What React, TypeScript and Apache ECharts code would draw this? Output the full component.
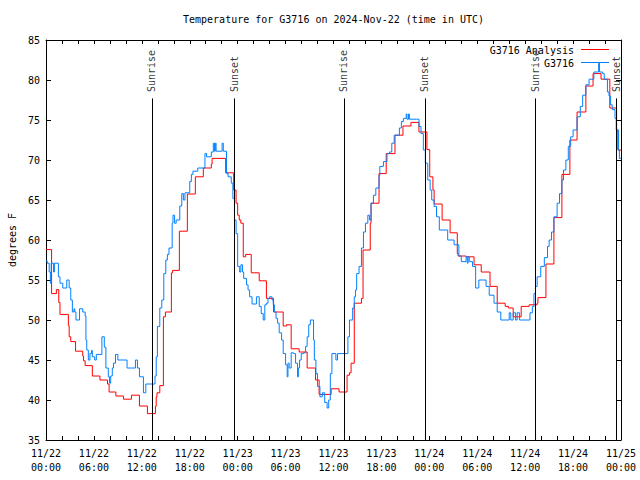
import React, { useEffect, useRef } from "react";
import * as echarts from "echarts";

// Hours since 2024-11-22 00:00 UTC
const analysisHours = [
  0, 0.7, 1.3, 1.6, 1.75, 2.8, 2.9, 3.1, 3.7, 4.6, 4.7, 4.9, 5.8, 6.75, 7.7, 7.9, 8.75, 9.7, 10.7, 11.7, 12.7,
  13.7, 13.8, 13.9, 14.25, 14.7, 14.95, 15.7, 15.85, 16.7, 17.7, 18.7, 19.7, 20.7, 20.8, 22.5, 23.5, 23.8, 24.0,
  24.2, 24.4, 24.7, 25.0, 25.7, 26.7, 27.6, 28.5, 29.7, 30.1, 30.7, 31.7, 32.7, 33.75, 34.2, 35.7, 36.7, 37.7,
  38.0, 38.2, 38.6, 39.5, 39.7, 40.6, 40.7, 41.7, 42.6, 43.7, 44.7, 45.7, 46.7, 47.7, 48.05, 48.45, 48.6, 49.6,
  50.6, 51.5, 51.6, 52.6, 53.6, 54.5, 55.6, 56.5, 57.5, 57.9, 58.5, 59.5, 60.5, 61.5, 61.6, 62.6, 63.6, 64.6,
  65.6, 66.5, 67.6, 68.5, 69.5, 70.6, 71.45, 71.6, 72,
];
const analysisTemps = [
  58.8, 53.3, 53.8, 52.2, 50.7, 49.3, 47.9, 47.3, 46.1, 45.5, 44.9, 44.3, 43.0, 42.5, 42.0, 41.0, 40.5, 40.1, 40.6, 39.25, 38.3,
  39.2, 40.4, 40.9, 41.8, 50.4, 51.0, 55.9, 56.2, 61.1, 65.75, 67.9, 69.0, 69.5, 70.2, 68.4, 66.25, 64.6, 63.1,
  62.5, 62.1, 57.9, 58.2, 55.9, 54.9, 52.7, 51.0, 49.25, 49.4, 46.4, 46.0, 44.0, 42.5, 40.7, 41.4, 41.0, 43.1,
  43.4, 44.6, 52.1, 52.7, 58.75, 62.1, 64.6, 68.3, 70.8, 73.1, 74.25, 74.7, 73.5, 71.3, 67.9, 66.25, 64.5, 62.5,
  60.9, 58.3, 58.0, 57.9, 56.9, 56.0, 54.2, 52.1, 51.7, 51.5, 50.4, 51.7, 51.9, 52.1, 52.8, 57.0, 62.8, 68.2,
  72.5, 76.0, 79.25, 80.8, 80.1, 76.5, 73.75, 71.25, 71.25,
];

const stationHours = [
  0, 0.15, 0.4, 0.55, 0.65, 0.95, 1.05, 1.55, 1.75, 2.1, 2.6, 2.9, 3.1, 3.3, 3.5, 3.6, 3.75, 4.2, 4.6, 4.9, 5.0,
  5.1, 5.3, 5.5, 5.7, 5.8, 6.1, 6.3, 7.0, 7.3, 7.5, 7.8, 7.95, 8.1, 8.3, 8.45, 8.7, 9.0, 10.15, 10.7, 11.2, 11.45,
  11.7, 12.2, 12.5, 13.65, 13.8, 13.95, 14.25, 14.5, 14.75, 15.0, 15.2, 15.4, 15.8, 15.9, 16.1, 16.3, 16.75, 17.0,
  17.2, 17.4, 18.0, 18.2, 18.4, 19.0, 19.9, 20.1, 20.7, 20.95, 21.1, 21.2, 21.3, 22.05, 22.2, 22.6, 22.8, 23.2,
  23.4, 23.6, 23.8, 24.0, 24.25, 24.4, 24.6, 24.75, 25.1, 25.3, 25.5, 25.8, 26.35, 26.7, 26.95, 27.2, 27.4, 27.6,
  27.8, 28.0, 28.3, 28.45, 28.6, 28.8, 29.0, 29.2, 29.5, 29.7, 30.0, 30.2, 30.3, 30.45, 30.7, 31.0, 31.25, 31.5,
  31.6, 31.75, 31.96, 32.25, 32.5, 32.7, 32.9, 33.1, 33.5, 33.6, 33.8, 34.0, 34.3, 34.6, 34.9, 35.2, 35.4, 35.6,
  35.8, 36.3, 36.5, 37.7, 37.8, 38.0, 38.4, 38.6, 38.75, 38.9, 39.2, 39.5, 39.75, 40.0, 40.3, 40.5, 40.7, 41.0,
  41.3, 41.7, 41.8, 42.25, 42.7, 43.0, 43.3, 43.6, 44.25, 44.5, 44.75, 45.1, 45.2, 45.4, 45.5, 46.4, 46.7, 46.96,
  47.25, 47.5, 47.8, 48.1, 48.3, 48.6, 48.9, 49.25, 50.3, 51.1, 51.7, 52.0, 52.6, 52.75, 52.85, 53.0, 53.4, 53.8,
  54.2, 55.1, 55.5, 56.1, 56.5, 56.95, 58.0, 58.2, 58.5, 58.8, 59.0, 59.3, 60.6, 60.9, 61.1, 61.3, 61.5, 61.95,
  62.4, 62.8, 63.0, 63.3, 63.6, 64.0, 64.3, 64.6, 64.8, 65.1, 65.4, 65.7, 66.0, 66.5, 66.9, 67.2, 67.6, 68.0,
  68.6, 69.2, 69.3, 69.7, 69.9, 70.3, 70.5, 70.7, 70.9, 71.25, 71.4, 71.7, 71.8, 72,
];
const stationTemps = [
  57.4, 57.1, 56.0, 54.6, 57.1, 56.0, 57.1, 55.4, 54.6, 54.0, 55.0, 54.0, 52.5, 51.0, 51.4, 51.0, 50.0, 51.4, 51.0, 50.5, 47.5,
  46.25, 45.0, 45.8, 46.2, 45.4, 45.0, 45.7, 47.9, 46.6, 44.0, 42.9, 42.1, 43.0, 44.0, 44.6, 45.7, 45.0, 44.0, 44.0, 45.0, 44.0,
  42.9, 40.9, 42.0, 43.0, 45.4, 49.2, 51.5, 52.5, 55.8, 57.5, 58.2, 59.0, 62.1, 63.1, 62.1, 62.5, 64.25, 65.8,
  65.0, 65.9, 67.3, 68.2, 68.6, 69.0, 70.8, 70.4, 71.0, 72.1, 71.1, 72.1, 71.1, 72.1, 71.1, 68.3, 67.9, 67.1,
  65.2, 62.5, 60.8, 56.7, 56.0, 56.9, 56.0, 55.2, 54.4, 53.75, 52.9, 52.0, 52.9, 51.7, 50.8, 50.0, 51.9, 52.1,
  52.7, 52.9, 52.5, 51.9, 51.0, 50.2, 49.6, 48.4, 47.5, 45.8, 44.4, 42.9, 44.6, 44.0, 45.9, 45.8, 44.6, 42.9,
  44.0, 45.0, 45.8, 45.9, 46.7, 47.9, 49.4, 50.0, 47.5, 45.0, 43.3, 41.7, 40.4, 40.9, 39.7, 39.0, 40.0, 43.3,
  45.8, 45.0, 45.8, 45.8, 47.9, 50.0, 51.5, 52.9, 53.75, 55.8, 56.7, 59.0, 61.0, 62.1, 63.1, 62.5, 64.6, 65.6,
  66.5, 68.1, 69.2, 69.8, 70.8, 71.0, 72.1, 73.1, 74.0, 74.8, 75.2, 75.75, 75.1, 75.75, 75.1, 75.1, 74.2, 73.3,
  71.25, 69.6, 67.5, 66.25, 65.0, 64.2, 62.9, 61.25, 60.0, 59.4, 58.0, 57.3, 57.9, 57.1, 57.9, 57.3, 56.7, 54.0,
  55.0, 54.2, 53.1, 52.1, 51.0, 50.0, 50.9, 50.0, 50.9, 50.0, 50.9, 50.0, 50.9, 51.7, 53.3, 54.2, 55.4, 56.7,
  57.8, 59.2, 60.0, 61.0, 62.9, 64.6, 65.8, 67.5, 68.75, 70.0, 71.7, 72.9, 73.75, 75.4, 76.7, 78.1, 79.4, 80.1,
  81.0, 82.1, 81.0, 80.8, 80.1, 78.5, 78.0, 76.9, 76.3, 75.2, 73.75, 71.25, 70.2, 70.2,
];

const sunriseHours = [13.25, 37.3, 61.3];
const sunsetHours = [23.55, 47.45, 71.4];

const seriesNames = ["G3716 Analysis", "G3716"];
const seriesColors = ["#ff0000", "#0080ff"];
const titleText = "Temperature for G3716 on 2024-Nov-22 (time in UTC)";
const yName = "degrees F";

const FONT = "DejaVu Sans Mono";

function pad(n: number) {
  return n < 10 ? "0" + n : String(n);
}

export default function App() {
  const ref = useRef<HTMLDivElement>(null);
  useEffect(() => {
    if (!ref.current) return;
    const chart = echarts.init(ref.current, undefined, { renderer: "svg" });
    const zip = (xs: number[], ys: number[]) => xs.map((x, i) => [x, ys[i]]);
    const events = [
      ...sunriseHours.map((h) => [h, 78.5, "Sunrise"]),
      ...sunsetHours.map((h) => [h, 78.5, "Sunset"]),
    ];
    const baseX = {
      type: "value",
      min: 0,
      max: 72,
      interval: 2,
      axisLine: { show: true, onZero: false, lineStyle: { color: "#000", width: 1 } },
      axisTick: { show: true, inside: true, length: 4, lineStyle: { color: "#000" } },
      splitLine: { show: false },
    };
    const baseY = {
      type: "value",
      min: 35,
      max: 85,
      interval: 5,
      axisLine: { show: true, onZero: false, lineStyle: { color: "#000", width: 1 } },
      axisTick: { show: true, inside: true, length: 5, lineStyle: { color: "#000" } },
      splitLine: { show: false },
    };
    chart.setOption({
      animation: false,
      backgroundColor: "#fff",
      grid: { left: 46, right: 19, top: 40, bottom: 40, containLabel: false, outerBoundsMode: "none" },
      xAxis: [
        {
          ...baseX,
          position: "bottom",
          axisLabel: {
            show: true,
            showMinLabel: true,
            showMaxLabel: true,
            color: "#000",
            fontFamily: FONT,
            fontSize: 10,
            lineHeight: 14,
            margin: 6,
            formatter: (v: number) => {
              if (Math.round(v) % 6 !== 0) return "";
              const day = 22 + Math.floor(v / 24);
              return `11/${day}\n${pad(Math.round(v) % 24)}:00`;
            },
          },
        },
        { ...baseX, position: "top", axisLabel: { show: false } },
      ],
      yAxis: [
        {
          ...baseY,
          position: "left",
          name: yName,
          nameLocation: "middle",
          nameGap: 29,
          nameRotate: 90,
          nameTextStyle: { color: "#000", fontFamily: FONT, fontSize: 10 },
          axisLabel: { color: "#000", fontFamily: FONT, fontSize: 10, margin: 6 },
        },
        { ...baseY, position: "right", axisLabel: { show: false } },
      ],
      graphic: [
        {
          type: "text",
          x: 333.5,
          y: 19,
          style: { text: titleText, align: "center", verticalAlign: "middle", fill: "#000", font: `10px ${FONT}` },
        },
        {
          type: "text",
          x: 574,
          y: 50,
          style: { text: seriesNames[0], align: "right", verticalAlign: "middle", fill: "#000", font: `10px ${FONT}` },
        },
        { type: "line", shape: { x1: 581, y1: 49.5, x2: 609, y2: 49.5 }, style: { stroke: seriesColors[0], lineWidth: 1 } },
        {
          type: "text",
          x: 574,
          y: 63,
          style: { text: seriesNames[1], align: "right", verticalAlign: "middle", fill: "#000", font: `10px ${FONT}` },
        },
        { type: "line", shape: { x1: 581, y1: 62.5, x2: 609, y2: 62.5 }, style: { stroke: seriesColors[1], lineWidth: 1 } },
      ],
      series: [
        {
          name: "sun",
          type: "scatter",
          data: events,
          symbolSize: 0,
          silent: true,
          label: {
            show: true,
            position: "inside",
            formatter: (p: any) => p.value[2],
            rotate: 90,
            align: "left",
            verticalAlign: "middle",
            color: "#000",
            fontFamily: FONT,
            fontSize: 10,
          },
          markLine: {
            silent: true,
            symbol: ["none", "none"],
            label: { show: false },
            lineStyle: { color: "#000", width: 1, type: "solid" },
            data: [...sunriseHours, ...sunsetHours].map((h) => [{ coord: [h, 35] }, { coord: [h, 77.7] }]),
          },
          z: 1,
        },
        {
          name: seriesNames[0],
          type: "line",
          step: "end",
          data: zip(analysisHours, analysisTemps),
          showSymbol: false,
          lineStyle: { color: seriesColors[0], width: 1 },
          itemStyle: { color: seriesColors[0] },
          z: 2,
        },
        {
          name: seriesNames[1],
          type: "line",
          step: "end",
          data: zip(stationHours, stationTemps),
          showSymbol: false,
          lineStyle: { color: seriesColors[1], width: 1 },
          itemStyle: { color: seriesColors[1] },
          z: 3,
        },
      ],
    });
    return () => chart.dispose();
  }, []);
  return <div ref={ref} style={{ position: "absolute", left: 0, top: 0, width: 640, height: 480 }} />;
}
